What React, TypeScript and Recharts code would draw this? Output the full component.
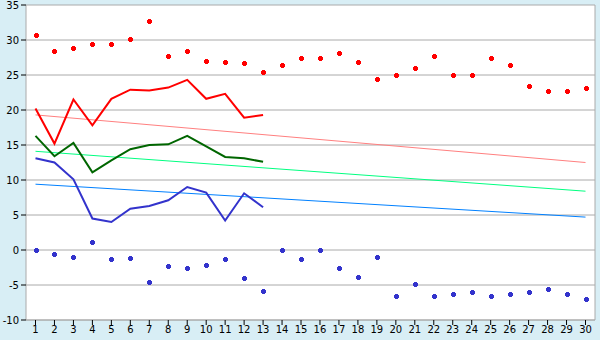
import {
  ComposedChart,
  Line,
  XAxis,
  YAxis,
  CartesianGrid,
} from 'recharts';

// days of the month
const days = Array.from({ length: 30 }, (_, i) => i + 1);

// daily maxima (red diamonds) and minima (blue diamonds)
const maxValues = [
  30.7, 28.4, 28.8, 29.4, 29.4, 30.2, 32.7, 27.7, 28.4, 27.0,
  26.8, 26.7, 25.5, 26.5, 27.4, 27.4, 28.2, 26.8, 24.4, 25.0,
  26.0, 27.7, 25.0, 25.0, 27.4, 26.4, 23.4, 22.7, 22.7, 23.2,
];
const minValues = [
  0.0, -0.6, -1.0, 1.1, -1.3, -1.2, -4.6, -2.3, -2.6, -2.2,
  -1.3, -4.0, -5.9, 0.0, -1.3, 0.0, -2.6, -3.9, -1.0, -6.6,
  -4.8, -6.5, -6.3, -6.0, -6.6, -6.3, -6.0, -5.6, -6.3, -7.0,
];

// current month lines (first 13 days)
const redLine = [20.2, 15.2, 21.5, 17.8, 21.6, 22.9, 22.8, 23.2, 24.3, 21.6, 22.3, 18.9, 19.3];
const greenLine = [16.3, 13.4, 15.3, 11.1, 12.8, 14.4, 15.0, 15.1, 16.3, 14.8, 13.3, 13.1, 12.6];
const blueLine = [13.1, 12.5, 10.1, 4.5, 4.0, 5.9, 6.3, 7.1, 9.0, 8.2, 4.2, 8.1, 6.1];

// trend lines: value at day 1 and day 30
const trendRed = [19.3, 12.5];
const trendGreen = [14.1, 8.4];
const trendBlue = [9.4, 4.7];

const yTicks = [-10, -5, 0, 5, 10, 15, 20, 25, 30, 35];

const data = days.map((d, i) => ({
  day: d,
  hi: maxValues[i],
  lo: minValues[i],
  r: i < redLine.length ? redLine[i] : null,
  g: i < greenLine.length ? greenLine[i] : null,
  b: i < blueLine.length ? blueLine[i] : null,
  tr: i === 0 ? trendRed[0] : i === days.length - 1 ? trendRed[1] : null,
  tg: i === 0 ? trendGreen[0] : i === days.length - 1 ? trendGreen[1] : null,
  tb: i === 0 ? trendBlue[0] : i === days.length - 1 ? trendBlue[1] : null,
}));

// small pixel diamond marker
const diamond = (color: string) => (props: any) => {
  const { cx, cy, index } = props;
  if (cx == null || cy == null) return <g key={index} />;
  return (
    <path
      key={index}
      transform={`translate(${Math.round(cx) + 0.5},${Math.round(cy) + 0.5})`}
      d="M-1.5,-2.5 h3 v1 h1 v3 h-1 v1 h-3 v-1 h-1 v-3 h1 z"
      fill={color}
      shapeRendering="crispEdges"
    />
  );
};

const tickStyle = { fontFamily: 'DejaVu Sans', fontSize: 10, fill: '#000' };

export default function App() {
  return (
    <div style={{ position: 'absolute', left: 0, top: 0, width: 600, height: 340, background: '#d8eef5' }}>
      <ComposedChart
        width={600}
        height={340}
        data={data}
        margin={{ top: 5, right: 5, bottom: 0, left: 0 }}
      >
        {/* white plot area, horizontal grid, right border line */}
        <CartesianGrid stroke="#aaaaaa" fill="#ffffff" verticalPoints={[595]} />
        <XAxis
          dataKey="day"
          height={20}
          interval={0}
          padding={{ left: 9.5, right: 9.5 }}
          tick={tickStyle}
          tickSize={5}
          tickMargin={1}
          axisLine={{ stroke: '#aaaaaa' }}
          tickLine={{ stroke: '#000' }}
        />
        <YAxis
          width={26}
          domain={[-10, 35]}
          ticks={yTicks}
          interval={0}
          tick={tickStyle}
          tickSize={5}
          tickMargin={2}
          axisLine={{ stroke: '#aaaaaa' }}
          tickLine={{ stroke: '#000' }}
        />

        <Line dataKey="tr" stroke="#ff8080" strokeWidth={1} dot={false} connectNulls isAnimationActive={false} />
        <Line dataKey="tg" stroke="#00ff80" strokeWidth={1} dot={false} connectNulls isAnimationActive={false} />
        <Line dataKey="tb" stroke="#0080ff" strokeWidth={1} dot={false} connectNulls isAnimationActive={false} />

        <Line dataKey="r" stroke="#ff0000" strokeWidth={2} dot={false} isAnimationActive={false} />
        <Line dataKey="g" stroke="#006600" strokeWidth={2} dot={false} isAnimationActive={false} />
        <Line dataKey="b" stroke="#3333cc" strokeWidth={2} dot={false} isAnimationActive={false} />

        <Line dataKey="hi" stroke="none" dot={diamond('#ff0000')} activeDot={false} isAnimationActive={false} />
        <Line dataKey="lo" stroke="none" dot={diamond('#3333cc')} activeDot={false} isAnimationActive={false} />
      </ComposedChart>
    </div>
  );
}
